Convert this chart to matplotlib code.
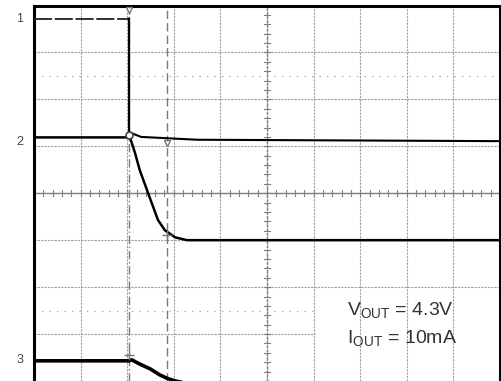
import matplotlib
matplotlib.use("Agg")
import matplotlib.pyplot as plt
import numpy as np

plt.rcParams['font.family'] = ['Liberation Sans', 'DejaVu Sans']
plt.rcParams['mathtext.fontset'] = 'custom'
plt.rcParams['mathtext.rm'] = 'Liberation Sans'

# screen is 10 x 8 divisions
N_XDIV, N_YDIV = 10, 8

# channel 1: enable step
ch1_t = [0, 2.04, 2.04, 2.30, 3.50, 10]
ch1_v = [7.72, 7.72, 5.30, 5.20, 5.14, 5.11]

# channel 2: output voltage discharge
ch2_t = [0, 2.06, 2.17, 2.27, 2.45, 2.66, 2.81, 3.03, 3.28, 10]
ch2_v = [5.19, 5.19, 4.85, 4.49, 4.00, 3.43, 3.21, 3.06, 3.00, 3.00]

# channel 3: output current
ch3_t = [0, 2.04, 2.10, 2.27, 2.49, 2.70, 2.85, 3.03, 3.24, 10]
ch3_v = [0.43, 0.43, 0.45, 0.36, 0.26, 0.13, 0.06, 0.0, -0.04, -0.04]

ch_labels = ["1", "2", "3"]
ch_label_y = [7.72, 5.10, 0.45]

cursor_t = [2.04, 2.85]
ref_levels = [6.5, 1.5]

fig = plt.figure(figsize=(5.01, 3.81), dpi=100)
ax = fig.add_axes([34 / 501, 0, 466 / 501, 1 - 5.5 / 381])
ax.set_xlim(0, N_XDIV)
ax.set_ylim(0, N_YDIV)
ax.set_xticks([])
ax.set_yticks([])

grid_kw = dict(color="#a0a0a0", lw=0.8, ls=(0, (2, 1)), zorder=1)
for x in range(1, N_XDIV):
    ax.axvline(x, **grid_kw)
for y in range(1, N_YDIV):
    if y == 1:
        ax.plot([0, 6.03], [y, y], **grid_kw)
    else:
        ax.axhline(y, **grid_kw)

# center axes with minor ticks
ax.axhline(N_YDIV / 2, color="#808080", lw=1.0, zorder=1)
ax.axvline(N_XDIV / 2, color="#808080", lw=1.0, ls=(0, (2, 1)), zorder=1)
for x in np.arange(0, N_XDIV, 0.2):
    ax.plot([x, x], [N_YDIV / 2 - 0.06, N_YDIV / 2 + 0.06], color="#808080", lw=0.8, zorder=1)
for y in np.arange(0, N_YDIV, 0.2):
    ax.plot([N_XDIV / 2 - 0.06, N_XDIV / 2 + 0.06], [y, y], color="#808080", lw=0.8, zorder=1)

# dotted reference levels
ax.plot([0, N_XDIV], [ref_levels[0]] * 2, color="#a0a0a0", lw=0.9, ls=(0, (1, 5)), zorder=1)
ax.plot([0, 6.03], [ref_levels[1]] * 2, color="#a0a0a0", lw=0.9, ls=(0, (1, 5)), zorder=1)

# time cursors
ax.axvline(cursor_t[0], color="#7a7a7a", lw=1.0, ls=(0, (6, 2, 1, 2)), zorder=2)
ax.axvline(cursor_t[1], color="#7a7a7a", lw=1.0, ls=(0, (6, 3)), zorder=2)

ax.plot(ch1_t[:2], ch1_v[:2], color="#222222", lw=1.3, ls=(0, (10, 1.5)), zorder=3)
ax.plot(ch1_t[1:], ch1_v[1:], color="black", lw=1.5, zorder=3)
ax.plot(ch2_t, ch2_v, color="black", lw=1.8, zorder=3)
ax.plot(ch3_t, ch3_v, color="black", lw=2.6, zorder=3, clip_on=True)

# trigger and cursor markers
ax.plot(cursor_t[0], 7.9, marker="v", ms=4, mfc="white", mec="#777777", zorder=4)
ax.plot(cursor_t[0], ch2_v[0] + 0.05, marker="o", ms=5, mfc="white", mec="#444444", mew=1.2, zorder=4)
ax.plot(cursor_t[1], 5.06, marker="v", ms=5, mfc="white", mec="#777777", zorder=4)
ax.plot(cursor_t[1], 3.11, marker="+", ms=7, color="#777777", zorder=4)
ax.plot(cursor_t[0], 0.55, marker="+", ms=7, color="#777777", zorder=4)

for lab, y in zip(ch_labels, ch_label_y):
    ax.text(-0.30, y, lab, ha="center", va="center", fontsize=9, color="#444444", clip_on=False)

ax.text(6.72, 1.49, r"V$_{\mathrm{OUT}}$ = 4.3V", fontsize=14, color="#333333", va="center", ha="left", zorder=5)
ax.text(6.72, 0.90, r"I$_{\mathrm{OUT}}$ = 10mA", fontsize=14, color="#333333", va="center", ha="left", zorder=5)

for side in ["left", "top", "right"]:
    ax.spines[side].set_linewidth(2.2)
    ax.spines[side].set_color("black")
ax.spines["bottom"].set_visible(False)

fig.savefig("out.png", dpi=100)
